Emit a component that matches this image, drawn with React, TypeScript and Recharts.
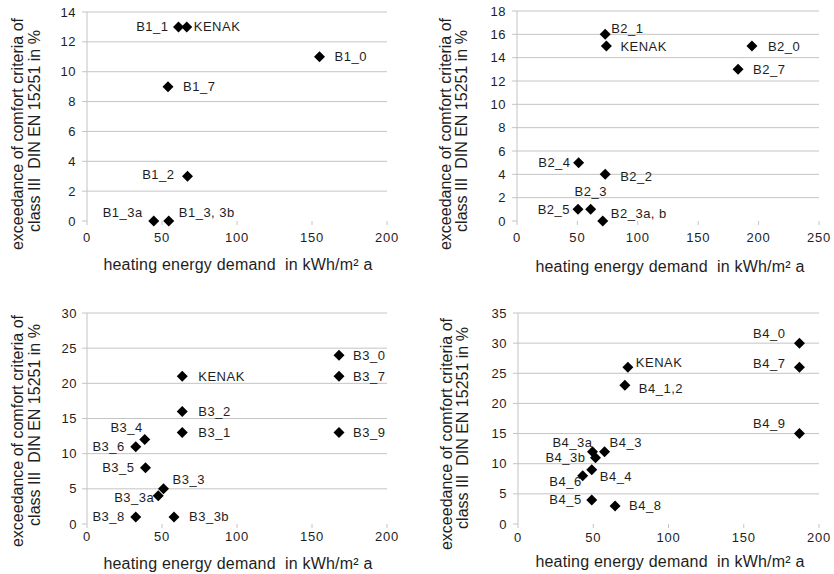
import React from 'react';
import { ScatterChart, Scatter, XAxis, YAxis, CartesianGrid } from 'recharts';

// ---------- data ----------
const names1 = ['B1_1', 'KENAK', 'B1_0', 'B1_7', 'B1_2', 'B1_3a', 'B1_3, 3b'];
const demand1 = [61, 66.5, 155, 54, 67, 44.5, 54.5];
const exceed1 = [13, 13, 11, 9, 3, 0, 0];

const names2 = ['B2_1', 'KENAK', 'B2_0', 'B2_7', 'B2_4', 'B2_2', 'B2_3', 'B2_5', 'B2_3a, b'];
const demand2 = [73, 74, 194.5, 183, 51, 73, 61, 50.5, 71];
const exceed2 = [16, 15, 15, 13, 5, 4, 1, 1, 0];

const names3 = ['B3_0', 'B3_7', 'B3_9', 'KENAK', 'B3_2', 'B3_1', 'B3_4', 'B3_6', 'B3_5', 'B3_3', 'B3_3a', 'B3_8', 'B3_3b'];
const demand3 = [168, 168, 168, 63.5, 63.5, 63.5, 38.5, 32.5, 39, 51, 47.5, 32.5, 58];
const exceed3 = [24, 21, 13, 21, 16, 13, 12, 11, 8, 5, 4, 1, 1];

const names4 = ['B4_0', 'B4_7', 'B4_9', 'KENAK', 'B4_1,2', 'B4_3a', 'B4_3', 'B4_3b', 'B4_4', 'B4_6', 'B4_5', 'B4_8'];
const demand4 = [187, 187, 187, 73, 71, 49.5, 57.5, 51.5, 49, 43, 49, 64.5];
const exceed4 = [30, 26, 15, 26, 23, 12, 12, 11, 9, 8, 4, 3];

const xTicks200 = [0, 50, 100, 150, 200];
const xTicks250 = [0, 50, 100, 150, 200, 250];
const yTicks1 = [0, 2, 4, 6, 8, 10, 12, 14];
const yTicks2 = [0, 2, 4, 6, 8, 10, 12, 14, 16, 18];
const yTicks3 = [0, 5, 10, 15, 20, 25, 30];
const yTicks4 = [0, 5, 10, 15, 20, 25, 30, 35];

const xTitle = 'heating energy demand\u00a0 in kWh/m² a';
const yTitle1 = 'exceedance of comfort criteria of';
const yTitle2 = 'class III\u00a0 DIN EN 15251 in %';

// ---------- label placement (style, not data) ----------
type Lp = [string, number, number];
const lab1: Lp[] = [['end', -10, 0], ['start', 7, 0], ['start', 15, 0], ['start', 15, 0], ['end', -13, -2], ['end', -11, -9], ['start', 10, -9]];
const lab2: Lp[] = [['start', 6, -6], ['start', 14, 0], ['start', 16, 0], ['start', 15, 0], ['end', -8, 0], ['start', 15, 2], ['middle', 0, -18], ['end', -8, 0], ['start', 8, -8]];
const lab3: Lp[] = [['start', 14, 0], ['start', 14, 0], ['start', 14, 0], ['start', 16, 0], ['start', 16, 0], ['start', 16, 0], ['end', -2, -12], ['end', -11, 0], ['end', -11, 0], ['start', 9, -9], ['end', -4, 2], ['end', -11, 0], ['start', 15, 0]];
const lab4: Lp[] = [['end', -14, -10], ['end', -14, -4], ['end', -14, -10], ['start', 8, -5], ['start', 14, 3], ['end', 0, -9], ['start', 5, -9], ['end', -10, 0], ['start', 8, 7], ['end', -1, 6], ['end', -10, 0], ['start', 14, 0]];

const FONT = '"Liberation Sans", Arial, sans-serif';
const TXT = '#1e1e1e';
const GRID = '#c4c4c4';

type PanelCfg = {
  left: number; top: number; width: number; height: number;
  margin: { top: number; right: number; bottom: number; left: number };
  yAxisWidth: number; xTickMargin: number; yTickMargin: number;
  xDomain: [number, number]; xTicks: number[];
  yDomain: [number, number]; yTicks: number[];
  names: string[]; xs: number[]; ys: number[]; labels: Lp[];
  yTitleX: [number, number]; yTitleY: [number, number];
  xTitlePos: [number, number];
};

function Panel({ cfg }: { cfg: PanelCfg }) {
  const data = cfg.names.map((n, i) => ({ name: n, x: cfg.xs[i], y: cfg.ys[i], i }));
  const labels = cfg.labels;
  const shape = (props: any) => {
    const { cx, cy, payload } = props;
    const r = 5.5;
    const lp = labels[payload.i];
    return (
      <g>
        <path d={`M${cx},${cy - r}L${cx + r},${cy}L${cx},${cy + r}L${cx - r},${cy}Z`} fill="#000" />
        <text
          x={cx + lp[1]}
          y={cy + lp[2]}
          textAnchor={lp[0] as any}
          dominantBaseline="central"
          fontSize={13}
          letterSpacing={0.5}
          fontFamily={FONT}
          fill={TXT}
        >
          {payload.name}
        </text>
      </g>
    );
  };
  const gridVals = cfg.yTicks.filter((t) => t !== 0);
  return (
    <div style={{ position: 'absolute', left: cfg.left, top: cfg.top, width: cfg.width, height: cfg.height }}>
      <ScatterChart width={cfg.width} height={cfg.height} margin={cfg.margin}>
        <CartesianGrid horizontal vertical={false} stroke={GRID} horizontalValues={gridVals} />
        <XAxis
          type="number"
          dataKey="x"
          domain={cfg.xDomain}
          ticks={cfg.xTicks}
          height={30}
          axisLine={false}
          tickLine={{ stroke: GRID }}
          tickSize={4}
          tickMargin={cfg.xTickMargin}
          tick={{ fill: TXT, fontSize: 13, fontFamily: FONT, letterSpacing: 0.8 }}
          interval={0}
          allowDecimals={false}
        />
        <YAxis
          type="number"
          dataKey="y"
          domain={cfg.yDomain}
          ticks={cfg.yTicks}
          width={cfg.yAxisWidth}
          axisLine={{ stroke: GRID }}
          tickLine={{ stroke: GRID }}
          tickSize={5}
          tickMargin={cfg.yTickMargin}
          tick={{ fill: TXT, fontSize: 13, fontFamily: FONT, letterSpacing: 0.5 }}
          interval={0}
        />
        <Scatter data={data} shape={shape} isAnimationActive={false} />
      </ScatterChart>
      <svg
        width={cfg.width}
        height={cfg.height}
        style={{ position: 'absolute', left: 0, top: 0, pointerEvents: 'none' }}
      >
        <text
          x={cfg.xTitlePos[0]}
          y={cfg.xTitlePos[1]}
          textAnchor="middle"
          dominantBaseline="central"
          fontSize={16}
          letterSpacing={0.2}
          fontFamily={FONT}
          fill={TXT}
        >
          {xTitle}
        </text>
        <text
          transform={`translate(${cfg.yTitleX[0]},${cfg.yTitleY[0]}) rotate(-90)`}
          textAnchor="middle"
          fontSize={16}
          fontFamily={FONT}
          fill={TXT}
        >
          {yTitle1}
        </text>
        <text
          transform={`translate(${cfg.yTitleX[1]},${cfg.yTitleY[1]}) rotate(-90)`}
          textAnchor="middle"
          fontSize={16}
          fontFamily={FONT}
          fill={TXT}
        >
          {yTitle2}
        </text>
      </svg>
    </div>
  );
}

const panels: PanelCfg[] = [
  {
    left: 0, top: 0, width: 420, height: 280,
    margin: { top: 12, right: 33, bottom: 29, left: 0 },
    yAxisWidth: 87, xTickMargin: 8, yTickMargin: 6,
    xDomain: [0, 200], xTicks: xTicks200, yDomain: [0, 14], yTicks: yTicks1,
    names: names1, xs: demand1, ys: exceed1, labels: lab1,
    yTitleX: [23, 40], yTitleY: [134, 131], xTitlePos: [238, 264],
  },
  {
    left: 420, top: 0, width: 414, height: 280,
    margin: { top: 11, right: 15, bottom: 29, left: 0 },
    yAxisWidth: 97, xTickMargin: 8, yTickMargin: 6,
    xDomain: [0, 250], xTicks: xTicks250, yDomain: [0, 18], yTicks: yTicks2,
    names: names2, xs: demand2, ys: exceed2, labels: lab2,
    yTitleX: [31, 47], yTitleY: [134, 131], xTitlePos: [250, 266],
  },
  {
    left: 0, top: 280, width: 420, height: 294,
    margin: { top: 33, right: 33, bottom: 20, left: 0 },
    yAxisWidth: 87, xTickMargin: 4, yTickMargin: 5,
    xDomain: [0, 200], xTicks: xTicks200, yDomain: [0, 30], yTicks: yTicks3,
    names: names3, xs: demand3, ys: exceed3, labels: lab3,
    yTitleX: [23, 40], yTitleY: [151, 145], xTitlePos: [238, 283],
  },
  {
    left: 420, top: 280, width: 414, height: 294,
    margin: { top: 33, right: 15, bottom: 20, left: 0 },
    yAxisWidth: 98, xTickMargin: 5, yTickMargin: 6,
    xDomain: [0, 200], xTicks: xTicks200, yDomain: [0, 35], yTicks: yTicks4,
    names: names4, xs: demand4, ys: exceed4, labels: lab4,
    yTitleX: [32, 48], yTitleY: [154, 148], xTitlePos: [250, 281],
  },
];

export default function App() {
  return (
    <div style={{ position: 'absolute', left: 0, top: 0, width: 834, height: 574, background: '#fff', overflow: 'hidden' }}>
      {panels.map((p, k) => (
        <Panel key={k} cfg={p} />
      ))}
    </div>
  );
}
